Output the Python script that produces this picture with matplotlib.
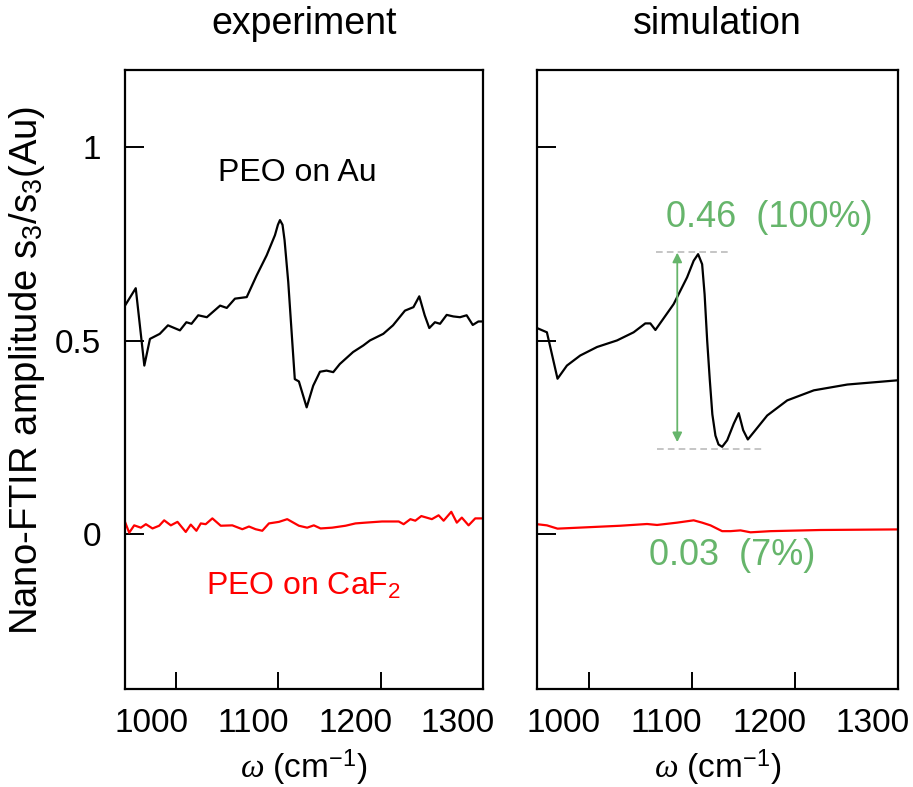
import matplotlib
matplotlib.use("Agg")
import matplotlib.pyplot as plt
from matplotlib.transforms import ScaledTranslation

plt.rcParams["font.family"] = ["Liberation Sans", "DejaVu Sans"]
plt.rcParams["mathtext.fontset"] = "custom"
plt.rcParams["mathtext.rm"] = "Liberation Sans"
plt.rcParams["mathtext.it"] = "Liberation Serif:italic"

# experiment: PEO on Au
exp_au_x = [950, 960.5, 968.9, 974.4, 984, 992, 1003.7, 1010, 1015, 1021.6, 1030, 1043,
            1049.5, 1057.5, 1069, 1078.7, 1088.5, 1096.6, 1099.5, 1101.5, 1104, 1106, 1109.6, 1114,
            1116, 1120, 1127.6, 1134, 1140.6, 1147, 1153.6, 1160, 1173, 1183, 1189.5,
            1202.5, 1212, 1223.7, 1232, 1237.7, 1243, 1247.5, 1253, 1258, 1264.5, 1271,
            1277.5, 1284, 1290, 1295.5, 1300]
exp_au_y = [0.591, 0.636, 0.436, 0.505, 0.518, 0.540, 0.527, 0.548, 0.544, 0.566, 0.561, 0.591,
            0.585, 0.609, 0.613, 0.669, 0.721, 0.773, 0.800, 0.812, 0.800, 0.760, 0.652, 0.479,
            0.401, 0.395, 0.328, 0.384, 0.420, 0.423, 0.419, 0.440, 0.471, 0.488, 0.501,
            0.518, 0.540, 0.578, 0.587, 0.615, 0.566, 0.533, 0.548, 0.544, 0.567, 0.563,
            0.561, 0.566, 0.541, 0.550, 0.550]

# experiment: PEO on CaF2
exp_caf_x = [950, 954.1, 959, 965.5, 970.4, 976.9, 983.4, 988.3, 994.8, 1001.3, 1009.4,
             1014.3, 1019.8, 1024.1, 1028.9, 1035.4, 1043.6, 1054.9, 1064.7, 1071.2,
             1077.7, 1084.2, 1090.7, 1100.5, 1108.6, 1120, 1128.1, 1134.6, 1141.2,
             1152.5, 1165.6, 1175.3, 1185.1, 1201.3, 1217.6, 1222.4, 1229, 1233.8,
             1239.7, 1250, 1256.6, 1261.5, 1269, 1274.4, 1279.3, 1285.9, 1292.4, 1300]
exp_caf_y = [0.032, 0.004, 0.023, 0.017, 0.026, 0.015, 0.022, 0.036, 0.023, 0.032, 0.006,
             0.025, 0.009, 0.028, 0.026, 0.041, 0.022, 0.023, 0.013, 0.020,
             0.013, 0.009, 0.028, 0.032, 0.039, 0.022, 0.017, 0.023, 0.015,
             0.017, 0.022, 0.028, 0.030, 0.033, 0.033, 0.026, 0.039, 0.035,
             0.047, 0.039, 0.049, 0.035, 0.058, 0.030, 0.043, 0.023, 0.041, 0.041]

# simulation: PEO on Au
sim_au_x = [950, 959.6, 969.9, 979, 991.9, 1008.2, 1027.6, 1043.7, 1055, 1059.9, 1064.8,
            1082.5, 1095.5, 1101.9, 1106.2, 1110.1, 1112.5, 1115, 1117.5, 1120, 1123,
            1126, 1129.5, 1134.4, 1140.8, 1145.6, 1149.9, 1154.4, 1160.2, 1173.2,
            1192.6, 1218.4, 1250.9, 1300]
sim_au_y = [0.533, 0.522, 0.402, 0.436, 0.462, 0.484, 0.501, 0.522, 0.545, 0.545, 0.528,
            0.595, 0.664, 0.707, 0.724, 0.698, 0.620, 0.500, 0.400, 0.310, 0.255,
            0.232, 0.226, 0.243, 0.286, 0.313, 0.269, 0.245, 0.264, 0.307,
            0.346, 0.372, 0.387, 0.398]

# simulation: PEO on CaF2
sim_caf_x = [950, 959.6, 969.9, 998.4, 1030.8, 1056.7, 1066.4, 1085.8, 1101.9, 1110.1,
             1118.2, 1129.5, 1137.6, 1147.3, 1157, 1176.4, 1225, 1300]
sim_caf_y = [0.026, 0.023, 0.0145, 0.018, 0.022, 0.0265, 0.024, 0.030, 0.036, 0.030,
             0.023, 0.008, 0.008, 0.010, 0.005, 0.008, 0.011, 0.0125]

# contrast marker in the simulation panel
sim_top, sim_bottom = 0.730, 0.220
arrow_x = 1086
contrast_labels = ["0.46  (100%)", "0.03  (7%)"]

GREEN = "#66b56b"
W, H = 913, 787

fig = plt.figure(figsize=(W / 100, H / 100), dpi=100)
bottom = 1 - 689 / H
height = (689 - 70) / H
ax1 = fig.add_axes([125 / W, bottom, (483 - 125) / W, height])
ax2 = fig.add_axes([537 / W, bottom, (898 - 537) / W, height])

# the x tick labels sit a bit left of their ticks in the original
shift = ScaledTranslation(-25 / 100, 0, fig.dpi_scale_trans)

for ax, title in [(ax1, "experiment"), (ax2, "simulation")]:
    ax.set_xlim(950, 1300)
    ax.set_ylim(-0.4, 1.2)
    ax.set_xticks([1000, 1100, 1200, 1300])
    ax.set_yticks([0, 0.5, 1])
    ax.set_yticklabels(["0", "0.5", "1"])
    ax.tick_params(axis="x", direction="in", length=12, width=1.4, labelsize=24, pad=14)
    ax.tick_params(axis="y", direction="in", length=14, width=1.4, labelsize=24, pad=17)
    for lab in ax.get_xticklabels():
        lab.set_transform(lab.get_transform() + shift)
    for s in ax.spines.values():
        s.set_linewidth(1.6)
    ax.set_title(title, fontsize=27, pad=26)
    ax.set_xlabel(r"$\omega$ (cm$^{-1}$)", fontsize=24)
    ax.xaxis.set_label_coords(0.5, -0.095)

ax2.tick_params(axis="y", labelleft=False)

ax1.plot(exp_au_x, exp_au_y, color="black", lw=1.6)
ax1.plot(exp_caf_x, exp_caf_y, color="red", lw=1.6)
ax1.text(1041, 0.912, "PEO on Au", fontsize=23, color="black", ha="left", va="baseline")
ax1.text(1029, -0.155, r"PEO on CaF$_2$", fontsize=23, color="red", ha="left", va="baseline")

ax2.plot(sim_au_x, sim_au_y, color="black", lw=1.6)
ax2.plot(sim_caf_x, sim_caf_y, color="red", lw=1.6)
ax2.plot([1065, 1137], [sim_top, sim_top], color="#bbbbbb", lw=1.2, ls=(0, (4, 2.5)))
ax2.plot([1066, 1169], [sim_bottom, sim_bottom], color="#bbbbbb", lw=1.2, ls=(0, (4, 2.5)))
ax2.annotate("", xy=(arrow_x, sim_top - 0.002), xytext=(arrow_x, 0.238),
             arrowprops=dict(arrowstyle="<|-|>", color=GREEN, lw=1.3,
                             mutation_scale=14, shrinkA=0, shrinkB=0))
ax2.text(1075.4, 0.793, contrast_labels[0], fontsize=26, color=GREEN, ha="left", va="baseline")
ax2.text(1058.3, -0.079, contrast_labels[1], fontsize=26, color=GREEN, ha="left", va="baseline")

fig.text(27 / W, 1 - 370 / H, r"Nano-FTIR amplitude s$_3$/s$_3$(Au)", fontsize=27.5,
         rotation=90, ha="center", va="center")

fig.savefig("out.png", dpi=100)
